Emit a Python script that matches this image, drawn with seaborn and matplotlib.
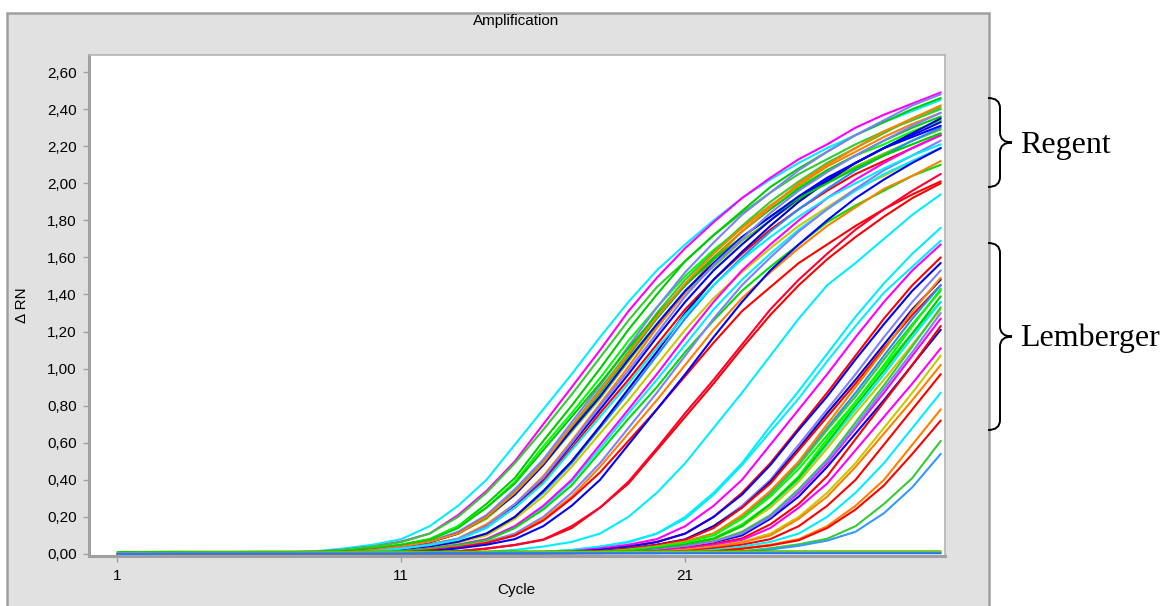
import pandas as pd
import matplotlib.pyplot as plt
from matplotlib.path import Path
from matplotlib.patches import PathPatch, Rectangle
import seaborn as sns

# cycles 1..30
cycles = list(range(1, 31))

# Regent wells (early Ct) (delta Rn)
regent_colors = ["#00eeff", "#ff00ff", "#33cc33", "#00cc00", "#00ff00", "#33cc33",
                 "#66cc00", "#8080ff", "#00cc00", "#0000ff", "#ff8000", "#ff0000",
                 "#1e90ff", "#c8c800", "#0000cc", "#00eeff", "#ff00ff", "#00dd00",
                 "#8080ff", "#ff8000", "#ff0000", "#0000ff", "#ff0000", "#ff0033",
                 "#00eeff", "#00cc00", "#0000ff", "#ff8000", "#8080ff", "#00eeff"]
regent_curves = [
    [0, 0, .005, .005, .005, .005, .008, .015, .03, .05, .08, .15, .26, .40, .59, .78, .97, 1.17, 1.36, 1.53, 1.67, 1.80, 1.92, 2.02, 2.11, 2.19, 2.26, 2.33, 2.39, 2.45],
    [0, 0, .008, .01, .01, .01, .01, .012, .023, .04, .067, .11, .21, .34, .50, .70, .90, 1.10, 1.31, 1.49, 1.65, 1.79, 1.92, 2.03, 2.13, 2.21, 2.30, 2.37, 2.43, 2.49],
    [0, 0, .005, .005, .005, .005, .006, .011, .022, .04, .064, .11, .20, .33, .49, .67, .86, 1.06, 1.26, 1.44, 1.58, 1.72, 1.84, 1.95, 2.05, 2.13, 2.21, 2.28, 2.34, 2.40],
    [0, 0, .005, .005, .005, .005, .005, .008, .015, .03, .05, .08, .15, .27, .41, .61, .80, 1.00, 1.21, 1.40, 1.58, 1.72, 1.85, 1.98, 2.08, 2.17, 2.26, 2.33, 2.40, 2.46],
    [0, 0, .005, .005, .005, .005, .005, .008, .015, .03, .05, .08, .15, .25, .39, .58, .76, .95, 1.15, 1.33, 1.50, 1.64, 1.76, 1.88, 1.98, 2.07, 2.15, 2.21, 2.28, 2.34],
    [0, 0, .005, .005, .005, .005, .005, .006, .011, .022, .041, .066, .11, .20, .34, .50, .69, .89, 1.09, 1.30, 1.48, 1.63, 1.77, 1.90, 2.01, 2.11, 2.19, 2.27, 2.35, 2.41],
    [0, 0, .005, .005, .005, .005, .005, .006, .011, .021, .039, .063, .11, .19, .32, .48, .66, .84, 1.04, 1.23, 1.41, 1.55, 1.69, 1.80, 1.91, 2.01, 2.09, 2.16, 2.23, 2.29],
    [0, 0, .005, .005, .005, .005, .005, .006, .011, .023, .042, .068, .12, .21, .35, .51, .71, .91, 1.12, 1.33, 1.52, 1.68, 1.83, 1.95, 2.07, 2.17, 2.26, 2.34, 2.42, 2.48],
    [0, 0, .005, .005, .005, .005, .005, .006, .011, .022, .04, .065, .11, .20, .33, .49, .68, .87, 1.07, 1.27, 1.45, 1.60, 1.74, 1.86, 1.97, 2.07, 2.15, 2.23, 2.30, 2.36],
    [0, 0, .005, .005, .005, .005, .005, .005, .008, .015, .03, .05, .08, .15, .26, .40, .59, .78, .97, 1.17, 1.36, 1.53, 1.67, 1.80, 1.92, 2.02, 2.11, 2.19, 2.26, 2.33],
    [0, 0, .005, .005, .005, .005, .005, .005, .008, .016, .031, .052, .083, .16, .27, .42, .61, .81, 1.01, 1.22, 1.41, 1.59, 1.74, 1.87, 2.00, 2.10, 2.19, 2.28, 2.35, 2.42],
    [0, 0, .005, .005, .005, .005, .005, .005, .008, .015, .029, .049, .078, .15, .25, .39, .57, .76, .94, 1.13, 1.32, 1.48, 1.62, 1.75, 1.86, 1.96, 2.05, 2.12, 2.19, 2.26],
    [0, 0, .005, .005, .005, .005, .005, .005, .006, .011, .022, .04, .065, .11, .20, .33, .49, .68, .87, 1.07, 1.27, 1.45, 1.60, 1.74, 1.86, 1.97, 2.07, 2.15, 2.23, 2.30],
    [0, 0, .005, .005, .005, .005, .005, .005, .006, .010, .021, .038, .062, .10, .19, .31, .47, .65, .83, 1.02, 1.21, 1.38, 1.52, 1.65, 1.77, 1.87, 1.97, 2.04, 2.12, 2.19],
    [0, 0, .005, .005, .005, .005, .005, .005, .006, .011, .022, .041, .066, .11, .20, .34, .50, .69, .89, 1.09, 1.30, 1.48, 1.63, 1.77, 1.90, 2.01, 2.11, 2.19, 2.27, 2.35],
    [0, 0, .005, .005, .005, .005, .005, .005, .005, .008, .015, .029, .049, .078, .15, .25, .39, .57, .76, .94, 1.13, 1.32, 1.48, 1.62, 1.75, 1.86, 1.96, 2.05, 2.12, 2.19],
    [0, 0, .008, .01, .01, .01, .01, .01, .01, .01, .015, .03, .05, .08, .15, .26, .40, .59, .78, .97, 1.17, 1.36, 1.53, 1.67, 1.80, 1.92, 2.02, 2.11, 2.19, 2.26],
    [0, 0, .005, .005, .005, .005, .005, .005, .005, .007, .014, .028, .047, .074, .14, .24, .37, .55, .73, .90, 1.09, 1.26, 1.42, 1.55, 1.67, 1.79, 1.88, 1.96, 2.04, 2.10],
    [0, 0, .005, .005, .005, .005, .005, .005, .005, .006, .011, .022, .04, .065, .11, .20, .33, .49, .68, .87, 1.07, 1.27, 1.45, 1.60, 1.74, 1.86, 1.97, 2.07, 2.15, 2.23],
    [0, 0, .005, .005, .005, .005, .005, .005, .005, .006, .010, .021, .038, .062, .10, .19, .31, .47, .65, .83, 1.02, 1.21, 1.38, 1.52, 1.65, 1.77, 1.87, 1.97, 2.04, 2.12],
    [0, 0, .005, .005, .005, .005, .005, .005, .005, .005, .010, .020, .036, .059, .10, .18, .30, .44, .61, .78, .96, 1.14, 1.31, 1.44, 1.57, 1.67, 1.77, 1.86, 1.94, 2.01],
    [0, 0, .005, .005, .005, .005, .005, .005, .005, .005, .008, .015, .03, .05, .08, .15, .26, .40, .59, .78, .97, 1.17, 1.36, 1.53, 1.67, 1.80, 1.92, 2.02, 2.11, 2.19],
    [0, 0, .005, .005, .005, .005, .005, .005, .005, .005, .005, .008, .014, .029, .048, .076, .14, .25, .38, .56, .74, .92, 1.11, 1.29, 1.45, 1.59, 1.71, 1.82, 1.92, 2.00],
    [0, 0, .005, .005, .005, .005, .005, .005, .005, .005, .005, .008, .015, .029, .049, .078, .15, .25, .39, .57, .76, .94, 1.13, 1.32, 1.48, 1.62, 1.75, 1.86, 1.96, 2.05],
    [0, 0, .005, .005, .005, .005, .005, .005, .005, .005, .005, .005, .006, .011, .022, .04, .065, .11, .20, .33, .49, .68, .87, 1.07, 1.27, 1.45, 1.57, 1.70, 1.83, 1.94],
    [0, 0, .005, .005, .005, .005, .005, .008, .014, .029, .048, .076, .14, .25, .38, .56, .74, .92, 1.11, 1.29, 1.45, 1.59, 1.71, 1.82, 1.92, 2.00, 2.08, 2.15, 2.21, 2.27],
    [0, 0, .005, .005, .005, .005, .005, .006, .011, .022, .039, .064, .11, .20, .32, .48, .67, .85, 1.05, 1.24, 1.42, 1.57, 1.71, 1.82, 1.93, 2.03, 2.11, 2.19, 2.25, 2.31],
    [0, 0, .005, .005, .005, .005, .005, .006, .011, .022, .04, .066, .11, .20, .33, .49, .69, .88, 1.08, 1.28, 1.46, 1.62, 1.76, 1.88, 1.99, 2.09, 2.17, 2.25, 2.32, 2.38],
    [0, 0, .005, .005, .005, .005, .005, .005, .008, .015, .031, .051, .082, .15, .27, .41, .60, .80, .99, 1.19, 1.39, 1.56, 1.70, 1.84, 1.96, 2.06, 2.15, 2.23, 2.31, 2.38],
    [0, 0, .005, .005, .005, .005, .005, .005, .008, .014, .029, .048, .076, .14, .25, .38, .56, .74, .92, 1.11, 1.29, 1.45, 1.59, 1.71, 1.82, 1.92, 2.00, 2.08, 2.15, 2.21],
]

# Lemberger wells (late Ct)
lemberger_colors = ["#00eeff", "#00eeff", "#ff00ff", "#ff0000", "#0000ff", "#8080ff",
                    "#0000cc", "#ff0000", "#1e90ff", "#33cc33", "#ff8000", "#00ff00",
                    "#00eeff", "#00ff00", "#c8c800", "#00cc00", "#33cc33", "#ff00ff",
                    "#0000ff", "#8080ff", "#ff0000", "#ff00ff", "#c8c800", "#ff8000",
                    "#ff0000", "#00eeff", "#ff8000", "#ff0000", "#33cc33", "#3399ff"]
lemberger_curves = [
    [0, 0, .005, .005, .005, .005, .005, .005, .005, .005, .005, .005, .005, .005, .006, .011, .022, .04, .066, .11, .20, .33, .49, .69, .88, 1.08, 1.28, 1.46, 1.62, 1.76],
    [0, 0, .005, .005, .005, .005, .005, .005, .005, .005, .005, .005, .005, .005, .006, .011, .021, .039, .063, .11, .19, .32, .48, .66, .84, 1.04, 1.23, 1.41, 1.55, 1.69],
    [0, 0, .005, .005, .005, .005, .005, .005, .005, .005, .005, .005, .005, .005, .005, .008, .015, .03, .05, .08, .15, .26, .40, .59, .78, .97, 1.17, 1.36, 1.53, 1.67],
    [0, 0, .005, .005, .005, .005, .005, .005, .005, .005, .005, .005, .005, .005, .005, .006, .011, .022, .04, .065, .11, .20, .33, .49, .68, .87, 1.07, 1.27, 1.45, 1.60],
    [0, 0, .005, .005, .005, .005, .005, .005, .005, .005, .005, .005, .005, .005, .005, .006, .011, .022, .039, .064, .11, .20, .32, .48, .67, .85, 1.05, 1.24, 1.42, 1.57],
    [0, 0, .005, .005, .005, .005, .005, .005, .005, .005, .005, .005, .005, .005, .005, .005, .008, .015, .03, .05, .08, .15, .26, .40, .59, .78, .97, 1.17, 1.36, 1.53],
    [0, 0, .005, .005, .005, .005, .005, .005, .005, .005, .005, .005, .005, .005, .005, .005, .008, .015, .029, .049, .078, .15, .25, .39, .57, .76, .94, 1.13, 1.32, 1.48],
    [0, 0, .005, .005, .005, .005, .005, .005, .005, .005, .005, .005, .005, .005, .005, .005, .008, .014, .029, .048, .076, .14, .25, .38, .56, .74, .92, 1.11, 1.29, 1.45],
    [0, 0, .005, .005, .005, .005, .005, .005, .005, .005, .005, .005, .005, .005, .005, .005, .006, .011, .022, .04, .065, .11, .20, .33, .49, .68, .87, 1.07, 1.27, 1.45],
    [0, 0, .005, .005, .005, .005, .005, .005, .005, .005, .005, .005, .005, .005, .005, .005, .006, .011, .022, .039, .064, .11, .20, .32, .48, .67, .85, 1.05, 1.24, 1.42],
    [0, 0, .005, .005, .005, .005, .005, .005, .005, .005, .005, .005, .005, .005, .005, .005, .006, .011, .023, .041, .067, .11, .21, .34, .50, .70, .90, 1.10, 1.31, 1.49],
    [0, 0, .005, .005, .005, .005, .005, .005, .005, .005, .005, .005, .005, .005, .005, .005, .006, .010, .021, .038, .061, .10, .19, .31, .46, .64, .82, 1.01, 1.19, 1.36],
    [0, 0, .005, .005, .005, .005, .005, .005, .005, .005, .005, .005, .005, .005, .005, .005, .005, .008, .015, .03, .05, .08, .15, .26, .40, .59, .78, .97, 1.17, 1.36],
    [0, 0, .005, .005, .005, .005, .005, .005, .005, .005, .005, .005, .005, .005, .005, .005, .005, .008, .016, .032, .053, .084, .16, .27, .42, .62, .82, 1.02, 1.23, 1.43],
    [0, 0, .005, .005, .005, .005, .005, .005, .005, .005, .005, .005, .005, .005, .005, .005, .005, .008, .015, .029, .049, .078, .15, .25, .39, .57, .76, .94, 1.13, 1.32],
    [0, 0, .005, .005, .005, .005, .005, .005, .005, .005, .005, .005, .005, .005, .005, .005, .005, .008, .015, .031, .051, .082, .15, .27, .41, .60, .80, .99, 1.19, 1.39],
    [0, 0, .005, .005, .005, .005, .005, .005, .005, .005, .005, .005, .005, .005, .005, .005, .005, .006, .012, .023, .042, .068, .12, .21, .35, .51, .71, .91, 1.12, 1.33],
    [0, 0, .005, .005, .005, .005, .005, .005, .005, .005, .005, .005, .005, .005, .005, .005, .005, .006, .011, .022, .04, .065, .11, .20, .33, .49, .68, .87, 1.07, 1.27],
    [0, 0, .005, .005, .005, .005, .005, .005, .005, .005, .005, .005, .005, .005, .005, .005, .005, .006, .010, .021, .038, .062, .10, .19, .31, .47, .65, .83, 1.02, 1.21],
    [0, 0, .005, .005, .005, .005, .005, .005, .005, .005, .005, .005, .005, .005, .005, .005, .005, .006, .011, .022, .041, .066, .11, .20, .34, .50, .69, .89, 1.09, 1.30],
    [0, 0, .005, .005, .005, .005, .005, .005, .005, .005, .005, .005, .005, .005, .005, .005, .005, .005, .008, .016, .032, .053, .084, .16, .27, .42, .62, .82, 1.02, 1.23],
    [0, 0, .005, .005, .005, .005, .005, .005, .005, .005, .005, .005, .005, .005, .005, .005, .005, .005, .008, .014, .029, .048, .076, .14, .25, .38, .56, .74, .92, 1.11],
    [0, 0, .005, .005, .005, .005, .005, .005, .005, .005, .005, .005, .005, .005, .005, .005, .005, .005, .006, .011, .022, .04, .065, .11, .20, .33, .49, .68, .87, 1.07],
    [0, 0, .005, .005, .005, .005, .005, .005, .005, .005, .005, .005, .005, .005, .005, .005, .005, .005, .006, .010, .021, .038, .062, .10, .19, .31, .47, .65, .83, 1.02],
    [0, 0, .005, .005, .005, .005, .005, .005, .005, .005, .005, .005, .005, .005, .005, .005, .005, .005, .005, .008, .015, .03, .05, .08, .15, .26, .40, .59, .78, .97],
    [0, 0, .005, .005, .005, .005, .005, .005, .005, .005, .005, .005, .005, .005, .005, .005, .005, .005, .005, .006, .011, .022, .04, .065, .11, .20, .33, .49, .68, .87],
    [0, 0, .005, .005, .005, .005, .005, .005, .005, .005, .005, .005, .005, .005, .005, .005, .005, .005, .005, .005, .008, .015, .03, .05, .08, .15, .26, .40, .59, .78],
    [0, 0, .005, .005, .005, .005, .005, .005, .005, .005, .005, .005, .005, .005, .005, .005, .005, .005, .005, .005, .007, .014, .028, .046, .074, .14, .24, .37, .54, .72],
    [0, 0, .005, .005, .005, .005, .005, .005, .005, .005, .005, .005, .005, .005, .005, .005, .005, .005, .005, .005, .005, .008, .015, .031, .052, .082, .15, .27, .41, .61],
    [0, 0, .005, .005, .005, .005, .005, .005, .005, .005, .005, .005, .005, .005, .005, .005, .005, .005, .005, .005, .005, .007, .012, .024, .044, .072, .12, .22, .36, .54],
]

# no-template controls, flat near zero
ntc_colors = ["#00cc00", "#d4b000", "#1e78ff"]
ntc_curves = [
    [.010, .011, .012, .012, .012, .013, .013, .013, .013, .013, .013, .013, .013, .013, .014, .014, .014, .014, .014, .014, .014, .014, .014, .014, .014, .014, .014, .014, .014, .014],
    [.005, .006, .006, .007, .007, .007, .007, .008, .008, .008, .008, .008, .008, .008, .008, .009, .009, .009, .009, .009, .009, .009, .009, .009, .009, .009, .009, .009, .009, .009],
    [.002, .002, .003, .003, .003, .003, .003, .003, .003, .003, .003, .004, .004, .004, .004, .004, .004, .004, .004, .004, .004, .004, .004, .004, .004, .004, .004, .004, .004, .004],
]

y_ticks = [0.0, 0.2, 0.4, 0.6, 0.8, 1.0, 1.2, 1.4, 1.6, 1.8, 2.0, 2.2, 2.4, 2.6]
x_ticks = [1, 11, 21]

rows = []
palette = {}
for group, curves, colors in [("R", regent_curves, regent_colors),
                              ("L", lemberger_curves, lemberger_colors),
                              ("N", ntc_curves, ntc_colors)]:
    assert len(curves) == len(colors), group
    for i, (vals, col) in enumerate(zip(curves, colors)):
        assert len(vals) == len(cycles), (group, i, len(vals))
        well = f"{group}{i}"
        palette[well] = col
        for c, v in zip(cycles, vals):
            rows.append({"Cycle": c, "dRn": v, "well": well})
df = pd.DataFrame(rows)

sns.set_theme(style="white")
plt.rcParams["font.family"] = ["Liberation Sans", "DejaVu Sans"]
plt.rcParams["text.color"] = "black"

fig = plt.figure(figsize=(11.65, 6.06), dpi=100)

# background panel in pixel coordinates
bg = fig.add_axes([0, 0, 1, 1])
bg.set_xlim(0, 1165)
bg.set_ylim(606, 0)
bg.axis("off")
bg.add_patch(Rectangle((7, 13), 982, 610, facecolor="#e1e1e1", edgecolor="#a0a0a0", lw=1.8))
bg.text(516, 21, "Amplification", ha="center", va="center", fontsize=11, color="black")
bg.text(516, 590, "Cycle", ha="center", va="center", fontsize=11, color="black")
bg.text(22, 305, "\u0394 RN", ha="center", va="center", rotation=90, fontsize=11, color="black")


def brace(x0, xs, xt, y0, y1, r=10):
    ym = (y0 + y1) / 2
    verts = [(x0, y0), (xs, y0), (xs, y0 + r),
             (xs, ym - r), (xs, ym), (xt, ym),
             (xs, ym), (xs, ym + r),
             (xs, y1 - r), (xs, y1), (x0, y1)]
    codes = [Path.MOVETO, Path.CURVE3, Path.CURVE3,
             Path.LINETO, Path.CURVE3, Path.CURVE3,
             Path.CURVE3, Path.CURVE3,
             Path.LINETO, Path.CURVE3, Path.CURVE3]
    return PathPatch(Path(verts, codes), facecolor="none", edgecolor="black", lw=1.4)


bg.add_patch(brace(988, 1000, 1012, 98, 187))
bg.add_patch(brace(988, 1000, 1012, 243, 430))
bg.text(1020, 146, "Regent", ha="left", va="center", fontsize=23,
        family="Liberation Serif", color="black")
bg.text(1020, 338, "Lemberger", ha="left", va="center", fontsize=23,
        family="Liberation Serif", color="black")

# plot area
ax = fig.add_axes([89 / 1165, 1 - 556 / 606, (945 - 89) / 1165, (556 - 55) / 606])
ax.set_facecolor("white")
sns.lineplot(data=df, x="Cycle", y="dRn", hue="well", palette=palette, legend=False,
             estimator=None, linewidth=1.5, ax=ax)
ax.set_xlim(0, 30.15)
ax.set_ylim(-0.011, 2.692)
ax.set_xticks(x_ticks)
ax.set_xticklabels([str(t) for t in x_ticks])
ax.set_yticks(y_ticks)
ax.set_yticklabels([f"{t:.2f}".replace(".", ",") for t in y_ticks])
ax.tick_params(axis="both", which="both", direction="out", length=4, width=1,
               color="#a0a0a0", labelcolor="black", labelsize=11, pad=5,
               left=True, bottom=True)
ax.set_xlabel("")
ax.set_ylabel("")
for side in ["left", "bottom"]:
    ax.spines[side].set_color("#a0a0a0")
    ax.spines[side].set_linewidth(2.2)
for side in ["top", "right"]:
    ax.spines[side].set_color("#b4b4b4")
    ax.spines[side].set_linewidth(1.2)

fig.savefig("out.png", dpi=100)
